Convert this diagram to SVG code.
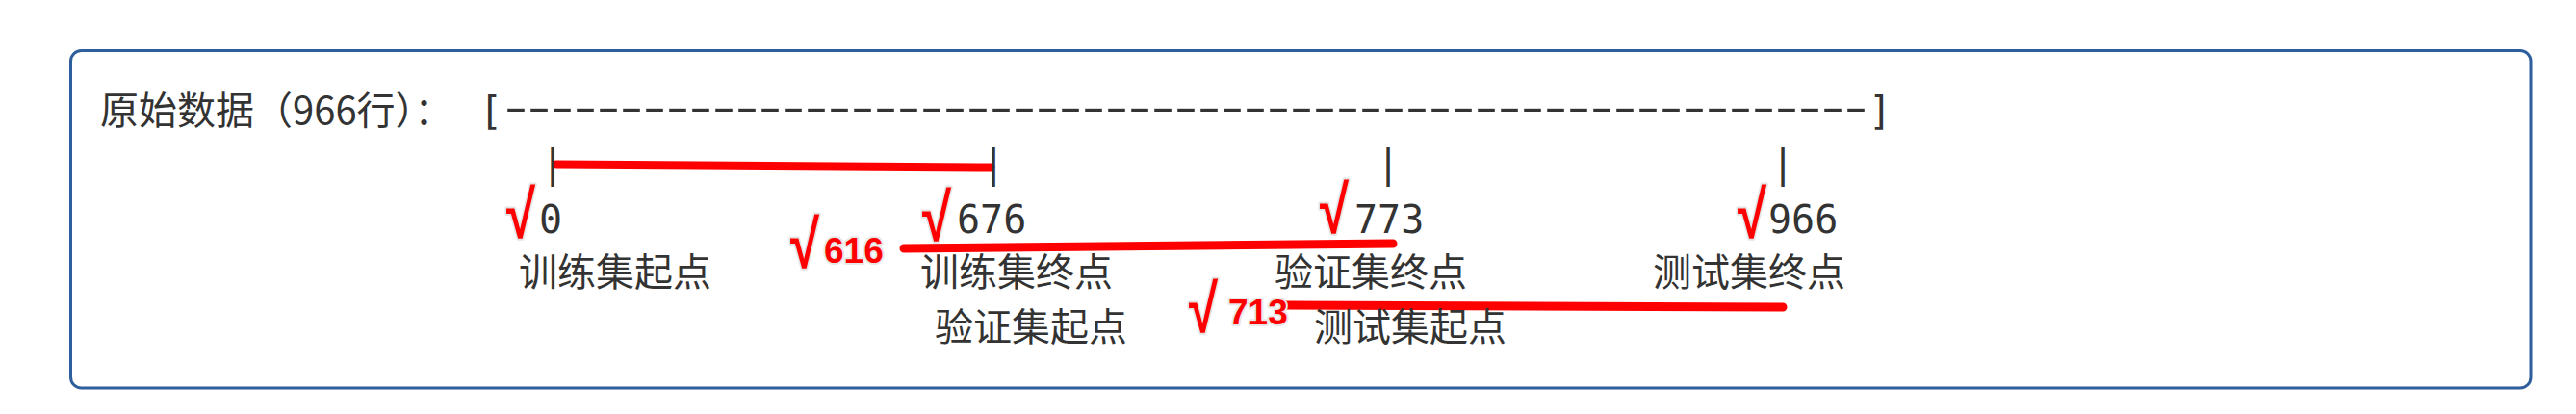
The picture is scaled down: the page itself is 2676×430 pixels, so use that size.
<svg xmlns="http://www.w3.org/2000/svg" width="2676" height="430" viewBox="0 0 2676 430">
  <style>
    .mono { font-family: "DejaVu Sans Mono", "Noto Sans CJK SC", monospace; font-size: 40px; fill: #333333; }
    .dash { font-family: "Liberation Sans", "DejaVu Sans", sans-serif; font-size: 40px; fill: #333333; }
    .cjk { font-family: "Noto Sans CJK SC", "DejaVu Sans", sans-serif; font-size: 40px; fill: #333333; }
    .chk { font-family: "Liberation Sans", "DejaVu Sans", sans-serif; font-weight: bold; font-size: 70px; fill: #ff0000; stroke: #e4e4e4; stroke-width: 4px; paint-order: stroke; stroke-linejoin: round; }
    .num { font-family: "Liberation Sans", "DejaVu Sans", sans-serif; font-weight: bold; font-size: 37px; fill: #ff0000; stroke: #e8e8e8; stroke-width: 4px; paint-order: stroke; stroke-linejoin: round; }
    .red { stroke: #ff0000; stroke-width: 9; stroke-linecap: round; fill: none; }
  </style>
  <rect x="0" y="0" width="2676" height="430" fill="#ffffff"/>
  <rect x="73.5" y="52.5" width="2555.5" height="350.5" rx="11" ry="11" fill="#ffffff" stroke="#2e5e9b" stroke-width="3"/>

  <g id="header">
    <text class="cjk" x="104" y="129">原始数据（966行）：</text>
    <text class="mono" x="498" y="129">[</text>
    <text class="dash" x="524" y="125" textLength="1416" lengthAdjust="spacingAndGlyphs">-----------------------------------------------------------</text>
    <text class="mono" x="1941" y="129">]</text>
  </g>

  <g id="connectors">
    <line class="red" x1="578" y1="171" x2="1029" y2="174"/>
    <line class="red" x1="939" y1="258" x2="1447" y2="253"/>
    <line class="red" x1="1334" y1="317" x2="1852" y2="319"/>
  </g>

  <g id="node-0">
    <text class="mono" x="574" y="184" text-anchor="middle">|</text>
    <text class="mono" x="560" y="242">0</text>
    <text class="chk" x="526" y="247" textLength="30" lengthAdjust="spacingAndGlyphs">√</text>
    <text class="cjk" x="539" y="297">训练集起点</text>
  </g>

  <g id="node-676">
    <text class="mono" x="1032" y="184" text-anchor="middle">|</text>
    <text class="mono" x="994" y="242">676</text>
    <text class="chk" x="958" y="250" textLength="30" lengthAdjust="spacingAndGlyphs">√</text>
    <text class="cjk" x="956" y="297">训练集终点</text>
    <text class="cjk" x="971" y="354">验证集起点</text>
  </g>

  <g id="node-616">
    <text class="chk" x="821" y="278" textLength="30" lengthAdjust="spacingAndGlyphs">√</text>
    <text class="num" x="856" y="273">616</text>
  </g>

  <g id="node-773">
    <text class="mono" x="1442" y="184" text-anchor="middle">|</text>
    <text class="mono" x="1407" y="242">773</text>
    <text class="chk" x="1371" y="242" textLength="30" lengthAdjust="spacingAndGlyphs">√</text>
    <text class="cjk" x="1324" y="297">验证集终点</text>
    <text class="cjk" x="1365" y="354">测试集起点</text>
  </g>

  <g id="node-713">
    <text class="chk" x="1235" y="345" textLength="30" lengthAdjust="spacingAndGlyphs">√</text>
    <text class="num" x="1276" y="337">713</text>
  </g>

  <g id="node-966">
    <text class="mono" x="1852" y="184" text-anchor="middle">|</text>
    <text class="mono" x="1837" y="242">966</text>
    <text class="chk" x="1805" y="247" textLength="30" lengthAdjust="spacingAndGlyphs">√</text>
    <text class="cjk" x="1717" y="297">测试集终点</text>
  </g>
</svg>
